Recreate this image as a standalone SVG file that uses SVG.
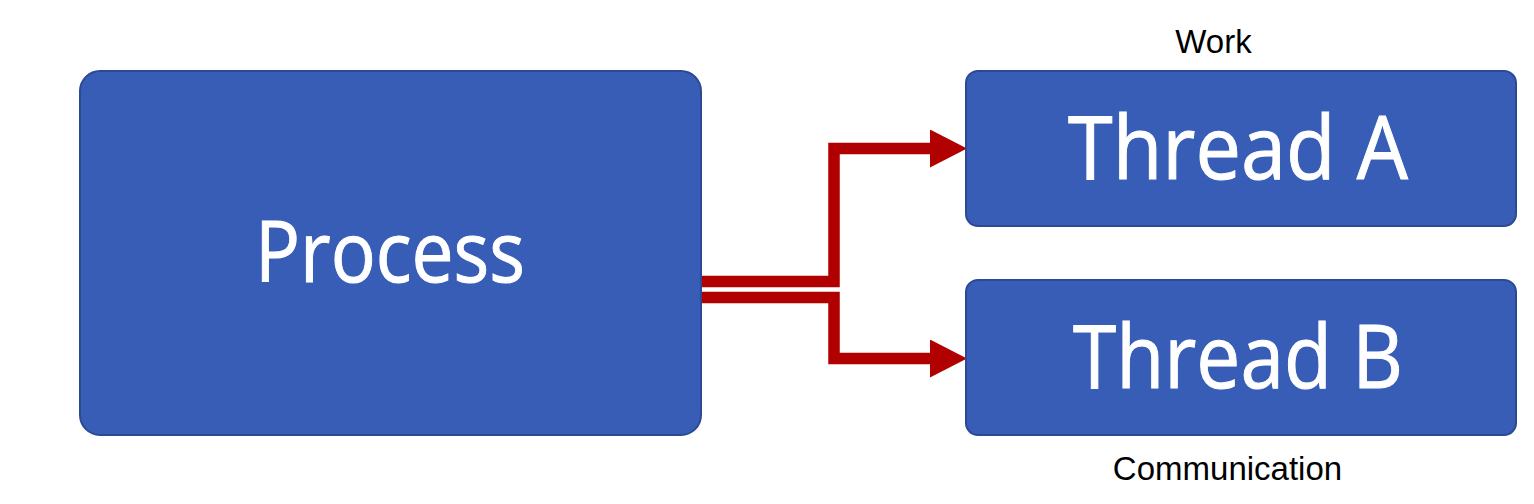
<svg xmlns="http://www.w3.org/2000/svg" width="1534" height="504" viewBox="0 0 1534 504">
  <style>
    .box { fill: #375DB7; stroke: #2B4A93; stroke-width: 2; }
    .big { font-family: "Open Sans", "Noto Sans", sans-serif; fill: #FFFFFF; stroke: #FFFFFF; stroke-width: 1; text-anchor: middle; }
    .lbl { font-family: "Liberation Sans", Arial, sans-serif; fill: #000000; font-size: 33px; text-anchor: middle; }
    .conn { fill: none; stroke: #B10000; stroke-width: 11.5; stroke-linejoin: miter; stroke-linecap: butt; }
  </style>
  <defs>
    <marker id="arrow" markerUnits="userSpaceOnUse" markerWidth="38" markerHeight="38" viewBox="0 0 38 38" refX="1" refY="19" orient="auto">
      <polygon points="0,0 37,19 0,38" fill="#B10000"/>
    </marker>
  </defs>
  <rect width="1534" height="504" fill="#FFFFFF"/>
  <g id="connectors">
    <path class="conn" d="M701,281.5 H834 V148.5 H931" marker-end="url(#arrow)"/>
    <path class="conn" d="M701,297.5 H834 V358.5 H931" marker-end="url(#arrow)"/>
  </g>
  <g id="process">
    <rect class="box" x="80" y="71" width="621" height="364" rx="20" ry="20"/>
    <text class="big" x="390" y="282" font-size="84" textLength="270" lengthAdjust="spacingAndGlyphs">Process</text>
  </g>
  <g id="threadA">
    <rect class="box" x="966" y="71" width="550" height="155" rx="12" ry="12"/>
    <text class="big" x="1238" y="179" font-size="87" textLength="340" lengthAdjust="spacingAndGlyphs">Thread A</text>
  </g>
  <g id="threadB">
    <rect class="box" x="966" y="280" width="550" height="155" rx="12" ry="12"/>
    <text class="big" x="1238" y="388" font-size="87" textLength="330" lengthAdjust="spacingAndGlyphs">Thread B</text>
  </g>
  <g id="labels">
    <text class="lbl" x="1213.5" y="53">Work</text>
    <text class="lbl" x="1227.5" y="480">Communication</text>
  </g>
</svg>
